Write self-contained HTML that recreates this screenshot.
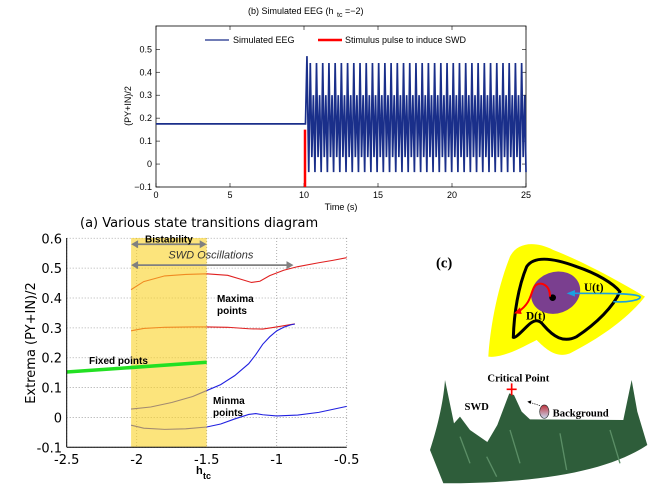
<!DOCTYPE html>
<html><head><meta charset="utf-8"><style>
body{margin:0;background:#fff;}
svg{display:block;font-family:"Liberation Sans",sans-serif;}
</style></head><body>
<svg id="s" width="653" height="490" viewBox="0 0 653 490">
<g id="top"></g>
<g id="bot"></g>
<g transform="translate(410,230) scale(0.3333)">
  <path d="M235,380 C240,300 260,180 300,80 C320,40 370,30 430,60 C520,95 620,150 705,200 C650,270 560,330 480,370 C440,385 410,360 380,330 C340,350 280,385 235,380 Z" fill="#ffff00"/>
  <path d="M310,322 C312,250 325,170 350,110 C370,80 420,80 500,110 C560,130 610,160 630,185 C610,230 560,280 500,320 C460,340 430,320 400,285 C385,265 370,270 350,290 C330,310 315,325 310,322 Z" fill="none" stroke="#000" stroke-width="9"/>
  <ellipse cx="437" cy="188" rx="75" ry="62" transform="rotate(-20 437 188)" fill="#7a3f8f"/>
  <circle cx="428" cy="203" r="10" fill="#000"/>
  <path d="M420,200 C420,165 395,155 378,165 C360,180 370,215 325,245" fill="none" stroke="#f00" stroke-width="6"/>
  <path d="M312,250 L330,232 L335,252 Z" fill="#f00"/>
  <path d="M610,215 C650,218 695,210 690,200 C680,190 600,190 490,190" fill="none" stroke="#1aa0e0" stroke-width="5"/>
  <path d="M470,190 L495,180 L495,200 Z" fill="#1aa0e0"/>
  <text x="522" y="183" font-family="Liberation Serif,serif" font-weight="bold" font-size="34">U(t)</text>
  <text x="348" y="268" font-family="Liberation Serif,serif" font-weight="bold" font-size="34">D(t)</text>
  <text x="78" y="112" font-family="Liberation Serif,serif" font-weight="bold" font-size="44">(c)</text>
  <path d="M105,450 L132,580 L150,560 L180,600 L232,636 L262,585 L298,490 L312,495 L335,545 L360,568 L640,570 L665,450 L682,545 L712,645 C600,720 400,760 100,760 L60,660 C80,600 100,520 105,450 Z" fill="#2e5d3a"/>
  <path d="M150,620 L180,700 M300,600 L330,700 M450,610 L470,720 M600,600 L630,700 M230,680 L260,740" stroke="#5b8e66" stroke-width="4" fill="none"/>
  <path d="M305,460 L305,496 M290,478 L320,478" stroke="#f00" stroke-width="5"/>
  <text x="325" y="455" text-anchor="middle" font-family="Liberation Serif,serif" font-weight="bold" font-size="32">Critical Point</text>
  <text x="200" y="540" text-anchor="middle" font-family="Liberation Serif,serif" font-weight="bold" font-size="32">SWD</text>
  <defs><linearGradient id="bg" x1="0" y1="0" x2="0" y2="1"><stop offset="0" stop-color="#c0303a"/><stop offset="1" stop-color="#c8d8f0"/></linearGradient></defs>
  <ellipse cx="403" cy="545" rx="14" ry="20" fill="url(#bg)" stroke="#333" stroke-width="2"/>
  <path d="M390,527 L360,517" stroke="#000" stroke-width="2" stroke-dasharray="4 3"/>
  <path d="M352,515 L364,511 L362,522 Z" fill="#000"/>
  <text x="428" y="560" font-family="Liberation Serif,serif" font-weight="bold" font-size="32">Background</text>
</g>
</svg>
<script>
// ---------- top chart data ----------
const eegXTicks=[0,5,10,15,20,25];
const eegYTicks=[-0.1,0,0.1,0.2,0.3,0.4,0.5];
const baseline=0.175;
const onsetTime=10.1;
const firstPeak=0.47;
const cycleShape=[ -0.035, 0.44, 0.03, 0.30, -0.035 ];
const cyclePhase=[ 0, 0.25, 0.5, 0.75, 1 ];
const period=0.42;
const pulseTime=10;
const pulseRange=[-0.1,0.15];

// ---------- bottom chart data ----------
const hXTicks=[-2.5,-2,-1.5,-1,-0.5];
const hYTicks=[-0.1,0,0.1,0.2,0.3,0.4,0.5,0.6];
const maxUpX=[-2.04,-1.95,-1.8,-1.65,-1.5,-1.35,-1.25,-1.18,-1.12,-1.05,-0.95,-0.85,-0.7,-0.6,-0.5];
const maxUpY=[0.428,0.455,0.474,0.479,0.481,0.476,0.462,0.452,0.456,0.475,0.493,0.505,0.518,0.526,0.535];
const maxLoX=[-2.04,-1.95,-1.8,-1.6,-1.5,-1.35,-1.2,-1.1,-1.0,-0.9,-0.87];
const maxLoY=[0.29,0.298,0.302,0.303,0.303,0.302,0.297,0.296,0.303,0.311,0.313];
const minUpX=[-2.04,-1.9,-1.75,-1.6,-1.5,-1.4,-1.3,-1.2,-1.15,-1.1,-1.05,-1.0,-0.95,-0.9,-0.87];
const minUpY=[0.028,0.035,0.05,0.07,0.09,0.11,0.14,0.18,0.21,0.245,0.27,0.29,0.302,0.31,0.313];
const minLoX=[-2.04,-1.95,-1.8,-1.65,-1.5,-1.4,-1.3,-1.2,-1.15,-1.1,-1.0,-0.85,-0.7,-0.6,-0.5];
const minLoY=[-0.026,-0.036,-0.04,-0.038,-0.032,-0.022,-0.005,0.01,0.013,0.009,0.005,0.008,0.017,0.027,0.037];
const fixedX=[-2.5,-1.5];
const fixedY=[0.152,0.185];
const bandRange=[-2.04,-1.5];

const NS="http://www.w3.org/2000/svg";
function mk(p,tag,attrs,txt){const e=document.createElementNS(NS,tag);for(const k in attrs)e.setAttribute(k,attrs[k]);if(txt!==undefined)e.textContent=txt;p.appendChild(e);return e;}

// ---- top chart ----
const T=document.getElementById('top');
const tx=v=>156+v*(370/25), ty=v=>187-(v+0.1)*229.5;
mk(T,'rect',{x:156,y:26,width:370,height:161,fill:'#fff',stroke:'#000','stroke-width':0.8});
eegXTicks.forEach(v=>{
  mk(T,'line',{x1:tx(v),x2:tx(v),y1:187,y2:183,stroke:'#000','stroke-width':0.6});
  mk(T,'line',{x1:tx(v),x2:tx(v),y1:26,y2:30,stroke:'#000','stroke-width':0.6});
  const t=mk(T,'text',{x:tx(v),y:198,'text-anchor':'middle','font-size':9},String(v));
  
  
});
eegYTicks.forEach(v=>{
  mk(T,'line',{x1:156,x2:160,y1:ty(v),y2:ty(v),stroke:'#000','stroke-width':0.6});
  mk(T,'line',{x1:526,x2:522,y1:ty(v),y2:ty(v),stroke:'#000','stroke-width':0.6});
  const t=mk(T,'text',{x:152,y:ty(v)+3,'text-anchor':'end','font-size':9},v<0?'\u22120.1':(v===0?'0':String(v)));
  
  
});
let pts=[[0,baseline],[onsetTime,baseline],[onsetTime+0.1,firstPeak],[onsetTime+0.22,cycleShape[0]]];
let t0=onsetTime+0.22;
while(t0+period<=25.05){cyclePhase.forEach((ph,i)=>{if(i>0)pts.push([t0+ph*period,cycleShape[i]]);});t0+=period;}
const eeg=mk(T,'polyline',{points:pts.map(p=>tx(Math.min(p[0],25))+','+ty(p[1])).join(' '),fill:'none',stroke:'#1a2f8a','stroke-width':1.7});


const pl=mk(T,'line',{x1:tx(pulseTime)+1,x2:tx(pulseTime)+1,y1:ty(pulseRange[0]),y2:ty(pulseRange[1]),stroke:'#f00','stroke-width':2.5});


mk(T,'line',{x1:205,x2:229,y1:40,y2:40,stroke:'#1a2f8a','stroke-width':1.2});
mk(T,'text',{x:233,y:43,'font-size':9},'Simulated EEG');
mk(T,'line',{x1:318,x2:342,y1:40,y2:40,stroke:'#f00','stroke-width':2.5});
mk(T,'text',{x:345,y:43,'font-size':9},'Stimulus pulse to induce SWD');
let ti=mk(T,'text',{x:248,y:14,'font-size':9},'(b) Simulated EEG  (h');


mk(T,'text',{x:337,y:17,'font-size':7},'tc');
mk(T,'text',{x:345,y:14,'font-size':9},'=\u22122)');
mk(T,'text',{x:341,y:210,'text-anchor':'middle','font-size':9},'Time (s)');
mk(T,'text',{x:131,y:106,'text-anchor':'middle','font-size':9,transform:'rotate(-90 131 106)'},'(PY+IN)/2');

// ---- bottom chart ----
const B=document.getElementById('bot');
const bx=v=>66.7+(v+2.5)*140, by=v=>447.3-(v+0.1)*298.6;
hXTicks.forEach(v=>mk(B,'line',{x1:bx(v),x2:bx(v),y1:238,y2:447,stroke:'#999','stroke-dasharray':'1 2','stroke-width':0.8}));
hYTicks.forEach(v=>mk(B,'line',{x1:66.7,x2:346.7,y1:by(v),y2:by(v),stroke:'#999','stroke-dasharray':'1 2','stroke-width':0.8}));
function line(xs,ys,col,w,name){const l=mk(B,'polyline',{points:xs.map((x,i)=>bx(x)+','+by(ys[i])).join(' '),fill:'none',stroke:col,'stroke-width':w});
 
 }
line(maxUpX,maxUpY,'#e02020',1.1,'maxima-upper');
line(maxLoX,maxLoY,'#e02020',1.1,'maxima-lower');
line(minUpX,minUpY,'#2020e0',1.1,'minima-upper');
line(minLoX,minLoY,'#2020e0',1.1,'minima-lower');
const band=mk(B,'rect',{x:bx(bandRange[0]),y:238,width:bx(bandRange[1])-bx(bandRange[0]),height:209,fill:'#fad225',opacity:0.6});


line(fixedX,fixedY,'#22e022',3.5,'fixed-points');
mk(B,'line',{x1:66.7,x2:66.7,y1:238,y2:447,stroke:'#000','stroke-width':1});
mk(B,'line',{x1:66.7,x2:346.7,y1:447.3,y2:447.3,stroke:'#000','stroke-width':1});
hXTicks.forEach(v=>{const t=mk(B,'text',{x:bx(v),y:464,'text-anchor':'middle','font-size':13,'font-family':'DejaVu Sans,sans-serif'},v===-0.5?'-0.5':String(v));
 
 });
hYTicks.forEach(v=>{const t=mk(B,'text',{x:62,y:by(v)+5,'text-anchor':'end','font-size':13,'font-family':'DejaVu Sans,sans-serif'},v===0?'0':String(v));
 
 });
function darrow(x1,x2,y){mk(B,'line',{x1:x1+4,x2:x2-4,y1:y,y2:y,stroke:'#808080','stroke-width':1.8});
 mk(B,'path',{d:`M${x1},${y} l7,-4 l0,8 Z M${x2},${y} l-7,-4 l0,8 Z`,fill:'#808080'});}
darrow(bx(-2.04),bx(-1.5),by(0.58));
darrow(bx(-2.04),bx(-0.88),by(0.51));
mk(B,'text',{x:bx(-1.77),y:by(0.586),'text-anchor':'middle','font-size':10,'font-weight':'bold'},'Bistability');
mk(B,'text',{x:bx(-1.47),y:by(0.532),'text-anchor':'middle','font-size':11,'font-style':'italic',fill:'#333'},'SWD Oscillations');
mk(B,'text',{x:217,y:302,'font-size':10,'font-weight':'bold'},'Maxima');
mk(B,'text',{x:217,y:314,'font-size':10,'font-weight':'bold'},'points');
mk(B,'text',{x:213,y:404,'font-size':10,'font-weight':'bold'},'Minma');
mk(B,'text',{x:213,y:416,'font-size':10,'font-weight':'bold'},'points');
mk(B,'text',{x:89,y:364,'font-size':10,'font-weight':'bold'},'Fixed points');
const bt=mk(B,'text',{x:80,y:227,'font-size':13,'font-family':'DejaVu Sans,sans-serif'},'(a) Various state transitions diagram');


mk(B,'text',{x:35,y:343,'text-anchor':'middle','font-size':13,'font-family':'DejaVu Sans,sans-serif',transform:'rotate(-90 35 343)'},'Extrema (PY+IN)/2');
mk(B,'text',{x:196,y:474,'font-size':11,'font-weight':'bold'},'h');
mk(B,'text',{x:203,y:479,'font-size':9,'font-weight':'bold'},'tc');
</script>
</body></html>
